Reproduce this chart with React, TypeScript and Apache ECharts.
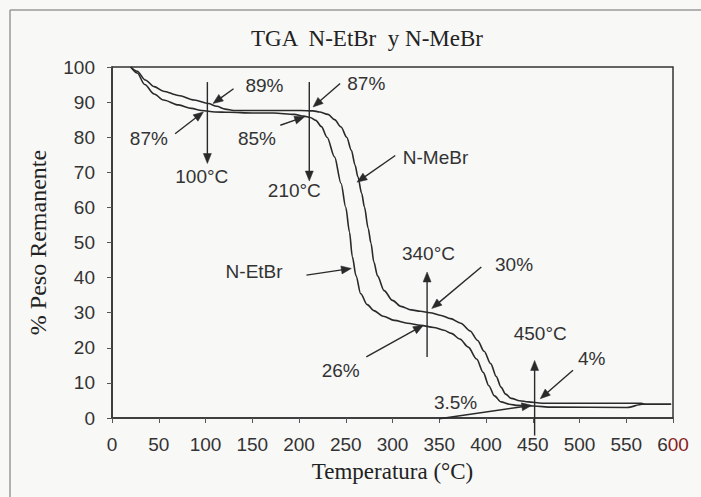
import React, { useEffect, useRef } from "react";
import * as echarts from "echarts";

// ---- data ----
const etbrTemp = [20, 27, 35, 45, 55, 71, 85, 96, 110, 125, 150, 173, 195, 205, 212, 218, 224, 230, 238, 245, 250, 254, 257, 261, 266, 273, 280, 290, 302, 316, 330, 344, 355, 363, 372, 381, 390, 397, 403, 409, 416, 425, 434, 451, 470, 551, 567, 598];
const etbrMass = [100, 98.3, 95, 92.3, 90.6, 89.2, 88.2, 87.6, 87.2, 87.1, 86.9, 86.9, 86.5, 86.0, 85.6, 84.8, 83, 80, 74.4, 66.8, 60, 53, 46, 40.5, 35.4, 32.3, 30.6, 29, 27.8, 27, 26.4, 25.8, 25, 24.1, 22.5, 20.2, 16.8, 13, 9.2, 6.3, 4.6, 3.9, 3.6, 3.4, 3.1, 3.0, 3.9, 3.9];

const mebrTemp = [20, 27, 35.6, 45, 55, 71, 88, 103, 112, 121, 130, 173, 202, 215, 222, 231, 238, 245, 251, 256, 260, 263, 267, 270, 274, 277, 280, 284, 291, 300, 309, 320, 330, 340, 352, 362, 373, 383, 391, 398, 405, 411, 416, 421, 427, 436, 445, 460, 566, 570, 598];
const mebrMass = [100, 98.8, 96.3, 94.4, 93.1, 91.9, 90.6, 89.6, 88.8, 88.0, 87.6, 87.6, 87.6, 87.5, 87.2, 86.5, 85, 82.9, 80, 76.3, 72, 68.7, 64, 60.1, 54, 49.8, 44.5, 40.5, 36.3, 33.5, 31.8, 30.8, 30.4, 30, 29.2, 28.3, 27, 24.8, 22.1, 19, 15.5, 11.8, 8.8, 6.8, 5.6, 4.9, 4.6, 4.2, 4.2, 3.9, 3.9];

const noteTexts = ["100°C", "89%", "87%", "210°C", "87%", "85%", "N-MeBr", "N-EtBr", "340°C", "30%", "26%", "450°C", "4%", "3.5%"];
const noteTemp = [96, 163, 39.4, 195, 272, 155, 346, 152, 338.5, 430, 244.6, 458, 513, 367.5];
const noteMass = [68.7, 94.8, 79.6, 64.9, 95.3, 79.6, 74.3, 41.6, 46.8, 43.7, 13.6, 24, 16.9, 4.3];

const arrowStartTemp = [102, 130, 67.5, 211, 244, 180, 303, 208, 337, 395, 272, 452, 493, 350];
const arrowStartMass = [95.7, 93.8, 81, 95.7, 95.3, 83.4, 74.8, 40.7, 17.4, 43, 17.4, -5, 13.6, -0.2];
const arrowEndTemp = [102, 108, 97.8, 211, 215, 206, 262, 256, 337, 342, 333, 452, 458, 449];
const arrowEndMass = [72.5, 89.6, 87.2, 67.5, 88.6, 85.8, 67.2, 42.6, 41.6, 31.2, 26.4, 16.4, 5.5, 3.6];

const titleText = "TGA  N-EtBr  y N-MeBr";
const xName = "Temperatura (°C)";
const yName = "% Peso Remanente";

const SANS = "'Liberation Sans', Arial, sans-serif";
const SERIF = "'Liberation Serif', 'Times New Roman', serif";
const INK = "#2a2a2a";

export default function App() {
  const ref = useRef<HTMLDivElement>(null);
  useEffect(() => {
    if (!ref.current) return;
    const chart = echarts.init(ref.current, null, { renderer: "svg" });
    const zip = (a: number[], b: number[]) => a.map((v, i) => [v, b[i]]);
    const arrowData = arrowStartTemp.map((t, i) => [t, arrowStartMass[i], arrowEndTemp[i], arrowEndMass[i]]);
    const option: any = {
      animation: false,
      backgroundColor: "#f8f8f7",
      title: {
        text: titleText,
        left: 362,
        top: 22,
        textAlign: "center",
        textStyle: { fontFamily: SERIF, fontSize: 23, fontWeight: "normal", color: "#222" },
      },
      graphic: [
        { type: "line", shape: { x1: 10, y1: 10, x2: 701, y2: 10 }, style: { stroke: "#9a9a9a", lineWidth: 1.5 } },
        { type: "line", shape: { x1: 10, y1: 10, x2: 10, y2: 497 }, style: { stroke: "#9a9a9a", lineWidth: 1.5 } },
      ],
      grid: {
        left: 112,
        right: 28,
        top: 67,
        bottom: 79,
        show: true,
        borderColor: "#333",
        borderWidth: 1.5,
        backgroundColor: "transparent",
      },
      xAxis: {
        type: "value",
        min: 0,
        max: 600,
        interval: 50,
        name: xName,
        nameLocation: "middle",
        nameGap: 42,
        nameTextStyle: { fontFamily: SERIF, fontSize: 23, color: "#222" },
        axisLine: { show: true, lineStyle: { color: "#333", width: 1.5 } },
        axisTick: { show: true, inside: false, length: 5, lineStyle: { color: "#555" } },
        splitLine: { show: false },
        axisLabel: {
          margin: 17,
          fontFamily: SANS,
          fontSize: 19,
          color: "#333",
          formatter: (v: number) => (v === 600 ? "{a|6}{b|00}" : String(v)),
          rich: {
            a: { fontFamily: SANS, fontSize: 19, color: "#333" },
            b: { fontFamily: SANS, fontSize: 19, color: "#8a1c1c" },
          },
        },
      },
      yAxis: {
        type: "value",
        min: 0,
        max: 100,
        interval: 10,
        name: yName,
        nameLocation: "middle",
        nameGap: 62,
        nameTextStyle: { fontFamily: SERIF, fontSize: 24, color: "#222" },
        axisLine: { show: true, lineStyle: { color: "#333", width: 1.5 } },
        axisTick: { show: true, inside: false, length: 5, lineStyle: { color: "#555" } },
        splitLine: { show: false },
        axisLabel: { margin: 17, fontFamily: SANS, fontSize: 19, color: "#333" },
      },
      series: [
        {
          name: "N-EtBr",
          type: "line",
          data: zip(etbrTemp, etbrMass),
          showSymbol: false,
          smooth: 0.3,
          smoothMonotone: "x",
          lineStyle: { color: INK, width: 1.6 },
          markPoint: {
            silent: true,
            symbol: "circle",
            symbolSize: 0,
            itemStyle: { color: "rgba(0,0,0,0)" },
            label: {
              show: true,
              position: "inside",
              formatter: "{b}",
              fontFamily: SANS,
              fontSize: 19,
              color: "#333",
            },
            data: noteTexts.map((t, i) => ({ name: t, value: t, coord: [noteTemp[i], noteMass[i]] })),
          },
        },
        {
          name: "N-MeBr",
          type: "line",
          data: zip(mebrTemp, mebrMass),
          showSymbol: false,
          smooth: 0.3,
          smoothMonotone: "x",
          lineStyle: { color: INK, width: 1.6 },
        },
        {
          name: "arrows",
          type: "custom",
          silent: true,
          clip: false,
          encode: { x: [0, 2], y: [1, 3] },
          data: arrowData,
          renderItem: (params: any, api: any) => {
            const s = api.coord([api.value(0), api.value(1)]);
            const e = api.coord([api.value(2), api.value(3)]);
            const dx = e[0] - s[0];
            const dy = e[1] - s[1];
            const len = Math.sqrt(dx * dx + dy * dy) || 1;
            const ux = dx / len;
            const uy = dy / len;
            const head = 10;
            const half = 4;
            const bx = e[0] - ux * head;
            const by = e[1] - uy * head;
            return {
              type: "group",
              children: [
                {
                  type: "line",
                  shape: { x1: s[0], y1: s[1], x2: bx + ux * 2, y2: by + uy * 2 },
                  style: { stroke: INK, lineWidth: 1.4 },
                },
                {
                  type: "polygon",
                  shape: {
                    points: [
                      [e[0], e[1]],
                      [bx - uy * half, by + ux * half],
                      [bx + uy * half, by - ux * half],
                    ],
                  },
                  style: { fill: INK, stroke: INK, lineWidth: 0.5 },
                },
              ],
            };
          },
        },
      ],
    };
    chart.setOption(option);
    return () => chart.dispose();
  }, []);
  return (
    <div
      ref={ref}
      style={{ position: "fixed", left: 0, top: 0, width: 701, height: 497 }}
    />
  );
}
